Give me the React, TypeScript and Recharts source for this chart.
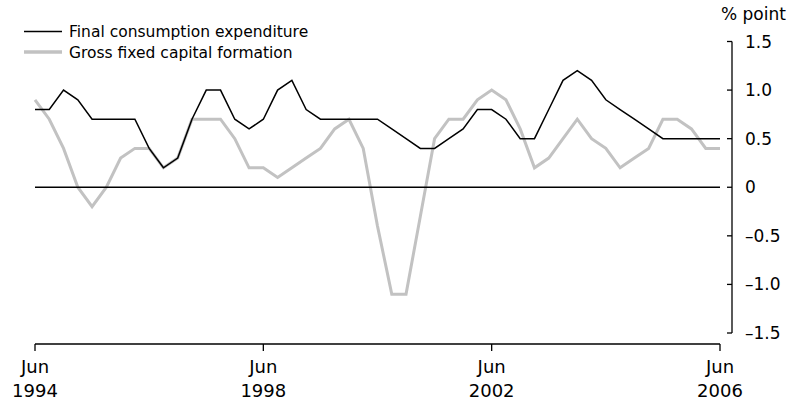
import React from "react";
import {
  LineChart,
  Line,
  XAxis,
  YAxis,
  ReferenceLine,
  Customized,
} from "recharts";

// quarterly, Jun 1994 .. Jun 2006
const months = ["Mar", "Jun", "Sep", "Dec"];
const quarters: string[] = [];
for (let k = 0; k < 49; k++) {
  const q = 1 + k;
  quarters.push(`${months[q % 4]} ${1994 + Math.floor(q / 4)}`);
}

const fce = [
  0.8, 0.8, 1.0, 0.9, 0.7, 0.7, 0.7, 0.7, 0.4, 0.2,
  0.3, 0.7, 1.0, 1.0, 0.7, 0.6, 0.7, 1.0, 1.1, 0.8,
  0.7, 0.7, 0.7, 0.7, 0.7, 0.6, 0.5, 0.4, 0.4, 0.5,
  0.6, 0.8, 0.8, 0.7, 0.5, 0.5, 0.8, 1.1, 1.2, 1.1,
  0.9, 0.8, 0.7, 0.6, 0.5, 0.5, 0.5, 0.5, 0.5,
];

const gfcf = [
  0.9, 0.7, 0.4, 0.0, -0.2, 0.0, 0.3, 0.4, 0.4, 0.2,
  0.3, 0.7, 0.7, 0.7, 0.5, 0.2, 0.2, 0.1, 0.2, 0.3,
  0.4, 0.6, 0.7, 0.4, -0.4, -1.1, -1.1, -0.3, 0.5, 0.7,
  0.7, 0.9, 1.0, 0.9, 0.6, 0.2, 0.3, 0.5, 0.7, 0.5,
  0.4, 0.2, 0.3, 0.4, 0.7, 0.7, 0.6, 0.4, 0.4,
];

const xTicks = ["Jun 1994", "Jun 1998", "Jun 2002", "Jun 2006"];
const yTicks = [-1.5, -1, -0.5, 0, 0.5, 1, 1.5];

const data = quarters.map((q, i) => ({ q, fce: fce[i], gfcf: gfcf[i] }));

const W = 793;
const H = 405;
const LEFT = 35;
const RIGHT = 720;
const TOP = 41.5;
const BOTTOM = 333;
const X_AXIS_Y = 344;
const Y_AXIS_X = 732;
const FONT = "DejaVu Sans";
const GREY = "#c2c2c2";

const fmtY = (v: number) =>
  v === 0 ? "0" : v < 0 ? `\u2013${Math.abs(v).toFixed(1)}` : v.toFixed(1);

const XTick = (props: any) => {
  const { x, payload } = props;
  const [m, yr] = String(payload.value).split(" ");
  return (
    <g>
      <line x1={x} x2={x} y1={X_AXIS_Y} y2={X_AXIS_Y + 7} stroke="#000" strokeWidth={1.3} />
      <text x={x} y={373} textAnchor="middle" fontFamily={FONT} fontSize={18} fill="#000">
        {m}
      </text>
      <text x={x} y={396.5} textAnchor="middle" fontFamily={FONT} fontSize={18} fill="#000">
        {yr}
      </text>
    </g>
  );
};

const YTick = (props: any) => {
  const { y, payload } = props;
  return (
    <g>
      <line x1={Y_AXIS_X - 5} x2={Y_AXIS_X} y1={y} y2={y} stroke="#000" strokeWidth={1.3} />
      <text
        x={745}
        y={y}
        dominantBaseline="central"
        fontFamily={FONT}
        fontSize={17}
        fill="#000"
      >
        {fmtY(payload.value)}
      </text>
    </g>
  );
};

const Frame = () => (
  <g>
    <line x1={LEFT} x2={RIGHT} y1={X_AXIS_Y} y2={X_AXIS_Y} stroke="#000" strokeWidth={1.3} />
    <line x1={Y_AXIS_X} x2={Y_AXIS_X} y1={TOP} y2={BOTTOM} stroke="#000" strokeWidth={1.3} />
    <text x={721} y={20} fontFamily={FONT} fontSize={17} fill="#000">
      % point
    </text>
    <line x1={24} x2={62} y1={31.5} y2={31.5} stroke="#000" strokeWidth={1.5} />
    <text x={69} y={37} fontFamily={FONT} fontSize={15.5} fill="#000">
      Final consumption expenditure
    </text>
    <line x1={24} x2={62} y1={52} y2={52} stroke={GREY} strokeWidth={3.5} />
    <text x={69} y={57.5} fontFamily={FONT} fontSize={15.5} fill="#000">
      Gross fixed capital formation
    </text>
  </g>
);

export default function App() {
  return (
    <div style={{ position: "absolute", left: 0, top: 0, width: W, height: H, background: "#fff" }}>
      <LineChart
        width={W}
        height={H}
        data={data}
        margin={{ top: TOP, right: 0, bottom: 0, left: LEFT }}
      >
        <XAxis
          dataKey="q"
          ticks={xTicks}
          interval={0}
          height={H - BOTTOM}
          axisLine={false}
          tickLine={false}
          tickSize={0}
          tick={<XTick />}
        />
        <YAxis
          orientation="right"
          domain={[-1.5, 1.5]}
          ticks={yTicks}
          width={W - RIGHT}
          axisLine={false}
          tickLine={false}
          tickSize={0}
          tick={<YTick />}
        />
        <Line
          type="linear"
          dataKey="gfcf"
          stroke={GREY}
          strokeWidth={3}
          dot={false}
          isAnimationActive={false}
        />
        <ReferenceLine y={0} stroke="#000" strokeWidth={1.3} />
        <Line
          type="linear"
          dataKey="fce"
          stroke="#000"
          strokeWidth={1.5}
          dot={false}
          isAnimationActive={false}
        />
        <Customized component={<Frame />} />
      </LineChart>
    </div>
  );
}
